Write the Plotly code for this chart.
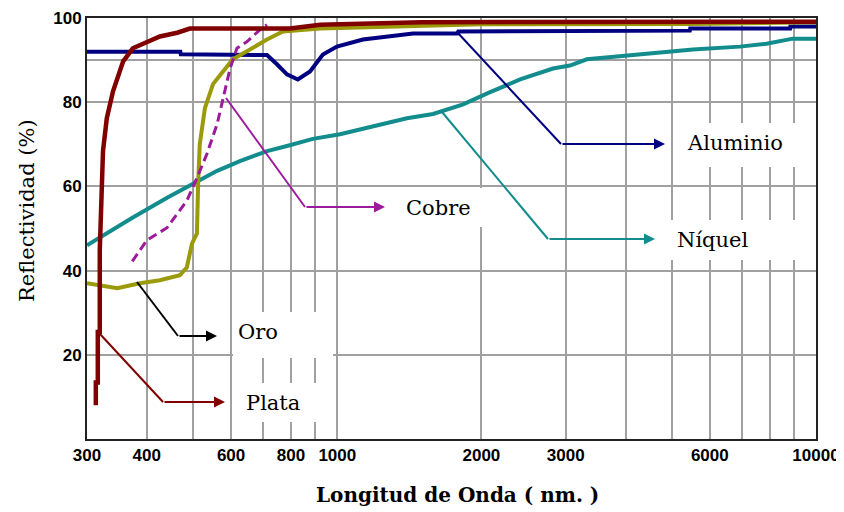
import plotly.graph_objects as go

# ---------------- data ----------------
plata_x = [313, 313, 316, 316, 319, 319, 324, 330, 340, 357, 374, 393, 426, 463, 492, 796, 921, 1500, 10000]
plata_y = [8.0, 13.4, 13.4, 25.4, 25.4, 44.8, 68.4, 76.2, 82.6, 89.7, 92.8, 93.9, 95.6, 96.5, 97.5, 97.5, 98.4, 99.0, 99.1]

aluminio_x = [300, 470, 471, 713, 748, 785, 827, 877, 933, 998, 1131, 1289, 1440, 1780, 1790, 5450, 5460, 8830, 8840, 10000]
aluminio_y = [92.0, 92.0, 91.4, 91.2, 89.0, 86.6, 85.4, 87.3, 91.3, 93.2, 94.9, 95.6, 96.3, 96.3, 96.8, 97.0, 97.5, 97.5, 98.0, 98.0]

oro_x = [300, 347, 387, 426, 469, 485, 497, 509, 512, 516, 529, 550, 577, 605, 657, 713, 770, 921, 1332, 2000, 5450, 10000]
oro_y = [37.0, 35.8, 37.0, 37.7, 38.9, 40.8, 46.4, 48.8, 60.6, 70.0, 78.6, 84.3, 87.3, 90.2, 92.5, 94.9, 96.8, 97.5, 98.0, 98.5, 98.6, 99.0]

cobre_x = [373, 387, 400, 441, 485, 509, 534, 561, 577, 597, 617, 648, 689, 713]
cobre_y = [42.2, 44.8, 47.2, 50.2, 56.6, 62.0, 67.7, 74.8, 81.0, 88.0, 92.8, 94.4, 97.2, 98.4]

niquel_x = [300, 319, 374, 441, 499, 561, 626, 713, 785, 889, 1013, 1187, 1398, 1585, 1832, 2057, 2409, 2822, 3061, 3321, 3894, 4566, 5531, 6930, 7880, 8940, 10000]
niquel_y = [46.0, 47.9, 52.6, 57.3, 60.6, 63.7, 66.0, 68.4, 69.6, 71.3, 72.4, 74.3, 76.2, 77.2, 79.5, 82.1, 85.4, 88.0, 88.7, 90.2, 90.9, 91.6, 92.5, 93.2, 93.9, 95.1, 95.1]

x_tickvals = [300, 400, 500, 600, 700, 800, 900, 1000, 2000, 3000, 4000, 5000, 6000, 7000, 8000, 9000, 10000]
x_ticktext = ["300", "400", "", "600", "", "800", "", "1000", "2000", "3000", "", "", "6000", "", "", "", "10000"]
y_tickvals = [20, 40, 60, 80, 90, 100]
y_ticktext = ["20", "40", "60", "80", "", "100"]

labels = ["Plata", "Oro", "Cobre", "Níquel", "Aluminio"]

# ---------------- colours ----------------
C_PLATA = "#800000"
C_ALU = "#000080"
C_ORO = "#9A9A0A"
C_COBRE = "#9C1A9C"
C_NIQ = "#128C8C"

fig = go.Figure()
fig.add_trace(go.Scatter(x=aluminio_x, y=aluminio_y, mode="lines", line=dict(color=C_ALU, width=4), name="Aluminio"))
fig.add_trace(go.Scatter(x=niquel_x, y=niquel_y, mode="lines", line=dict(color=C_NIQ, width=4), name="Níquel"))
fig.add_trace(go.Scatter(x=oro_x, y=oro_y, mode="lines", line=dict(color=C_ORO, width=4), name="Oro"))
fig.add_trace(go.Scatter(x=cobre_x, y=cobre_y, mode="lines", line=dict(color=C_COBRE, width=3, dash="9px,5px"), name="Cobre"))
fig.add_trace(go.Scatter(x=plata_x, y=plata_y, mode="lines", line=dict(color=C_PLATA, width=4.5), name="Plata"))

# ---------------- layout geometry (screen pixels; page body has an 8px offset) ----------------
OFF = 8
FW, FH = 844 - OFF, 512 - OFF
L, R, T, B = 87, 816, 18, 439
W, H = R - L, B - T

def px(xp):
    return (xp - L) / W

def py(yp):
    return (B - yp) / H

# white label boxes
boxes = [(240, 383, 333, 422), (233, 312, 333, 358), (400, 188, 487, 227), (667, 220, 800, 260), (677, 123, 810, 167)]
shapes = []
for x0, y0, x1, y1 in boxes:
    shapes.append(dict(type="rect", xref="paper", yref="paper", x0=px(x0), x1=px(x1), y0=py(y1), y1=py(y0),
                       fillcolor="white", line=dict(width=0), layer="above"))

# leader lines: start, corner, tip, label position
leaders = [
    ((100, 334), (163, 402), (225, 402), (244, 403), C_PLATA),
    ((137, 282), (178, 336), (217, 336), (236, 332), "#000000"),
    ((226, 98), (305, 207), (385, 207), (404, 208), C_COBRE),
    ((442, 112), (548, 239), (655, 239), (675, 240), C_NIQ),
    ((457, 32), (561, 144), (665, 144), (685, 143), C_ALU),
]
annotations = []
for lab, (s, c, t, lp, col) in zip(labels, leaders):
    shapes.append(dict(type="line", xref="paper", yref="paper", x0=px(s[0]), y0=py(s[1]), x1=px(c[0]), y1=py(c[1]),
                       line=dict(color=col, width=2), layer="above"))
    annotations.append(dict(xref="paper", yref="paper", x=px(t[0]), y=py(t[1]), text="", showarrow=True,
                            arrowhead=2, arrowsize=1.1, arrowwidth=2, arrowcolor=col, ax=c[0] - t[0], ay=0, standoff=0))
    annotations.append(dict(xref="paper", yref="paper", x=px(lp[0]), y=py(lp[1]), text=lab, showarrow=False,
                            xanchor="left", yanchor="middle", font=dict(family="DejaVu Serif", size=21, color="black")))

annotations.append(dict(xref="paper", yref="paper", x=px(27), y=py(211), text="Reflectividad (%)", showarrow=False,
                        textangle=-90, xanchor="center", yanchor="middle",
                        font=dict(family="DejaVu Serif", size=21, color="black")))
annotations.append(dict(xref="paper", yref="paper", x=px(457), y=py(495), text="<b>Longitud de Onda ( nm. )</b>",
                        showarrow=False, xanchor="center", yanchor="middle",
                        font=dict(family="DejaVu Serif", size=20, color="black")))

fig.update_layout(
    width=FW, height=FH,
    margin=dict(l=L - OFF, r=FW - (R - OFF), t=T - OFF, b=FH - (B - OFF), autoexpand=False),
    paper_bgcolor="white", plot_bgcolor="white",
    showlegend=False,
    shapes=shapes, annotations=annotations,
    xaxis=dict(type="log", range=[2.4771212547, 4.0], tickvals=x_tickvals, ticktext=x_ticktext,
               showgrid=True, gridcolor="#A0A0A0", gridwidth=2, ticks="", automargin=False,
               showline=True, linecolor="#222222", linewidth=2, mirror=True,
               tickfont=dict(family="Liberation Sans", size=17, color="black", weight="bold"),
               zeroline=False),
    yaxis=dict(range=[0, 100], tickvals=y_tickvals, ticktext=y_ticktext,
               showgrid=True, gridcolor="#A0A0A0", gridwidth=2, ticks="", automargin=False,
               showline=True, linecolor="#222222", linewidth=2, mirror=True,
               tickfont=dict(family="Liberation Sans", size=17, color="black", weight="bold"),
               zeroline=False),
)

fig.write_html("out.html")
